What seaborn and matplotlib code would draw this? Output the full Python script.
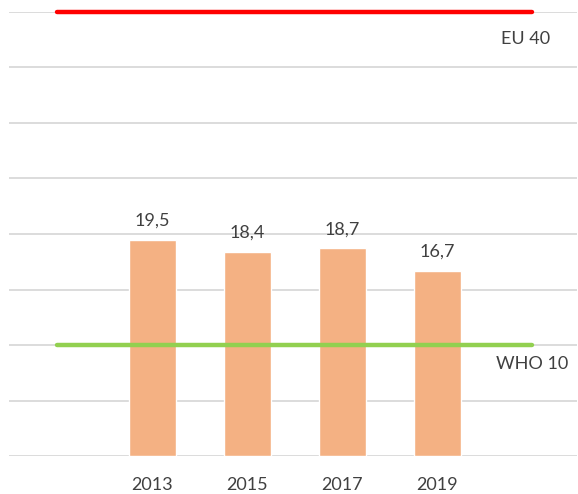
import pandas as pd
import seaborn as sns
import matplotlib.pyplot as plt

sns.set_theme(style="white")
plt.rcParams['font.family'] = ['Lato', 'DejaVu Sans']

#%% data
years = ["2013", "2015", "2017", "2019"]
values = [19.5, 18.4, 18.7, 16.7]
value_labels = ["19,5", "18,4", "18,7", "16,7"]
eu_limit = 40
who_limit = 10
yticks = [0, 5, 10, 15, 20, 25, 30, 35, 40]

df = pd.DataFrame({"year": years, "value": values})

#%% plot
fig = plt.figure(figsize=(5.78, 4.94), dpi=100)
ax = fig.add_axes([9/578, 1 - 456/494, 568/578, 444/494])

for y in yticks:
    ax.axhline(y, color="#d9d9d9", lw=1.3, zorder=0)

sns.barplot(data=df, x="year", y="value", color="#f4b183", width=0.49,
            saturation=1, ax=ax, zorder=2)

ax.plot([-1, 4], [eu_limit, eu_limit], color="#ff0000", lw=3.2, zorder=3, clip_on=False)
ax.plot([-1, 4], [who_limit, who_limit], color="#92d050", lw=3.2, zorder=3)

for i, (v, lab) in enumerate(zip(values, value_labels)):
    ax.text(i, v + 1.0, lab, ha="center", va="bottom", fontsize=13, color="#404040")

ax.text(4.19, eu_limit - 2.4, "EU 40", ha="right", va="center", fontsize=13, color="#404040")
ax.text(4.38, who_limit - 1.7, "WHO 10", ha="right", va="center", fontsize=13, color="#404040")

ax.set_xlim(-1.51, 4.47)
ax.set_ylim(0, 40)
ax.set_yticks([])
ax.set_xlabel("")
ax.set_ylabel("")
ax.tick_params(axis="x", length=0, labelsize=13, labelcolor="#404040", pad=15)
sns.despine(ax=ax, left=True, bottom=True)

plt.savefig("out.png", dpi=100)
